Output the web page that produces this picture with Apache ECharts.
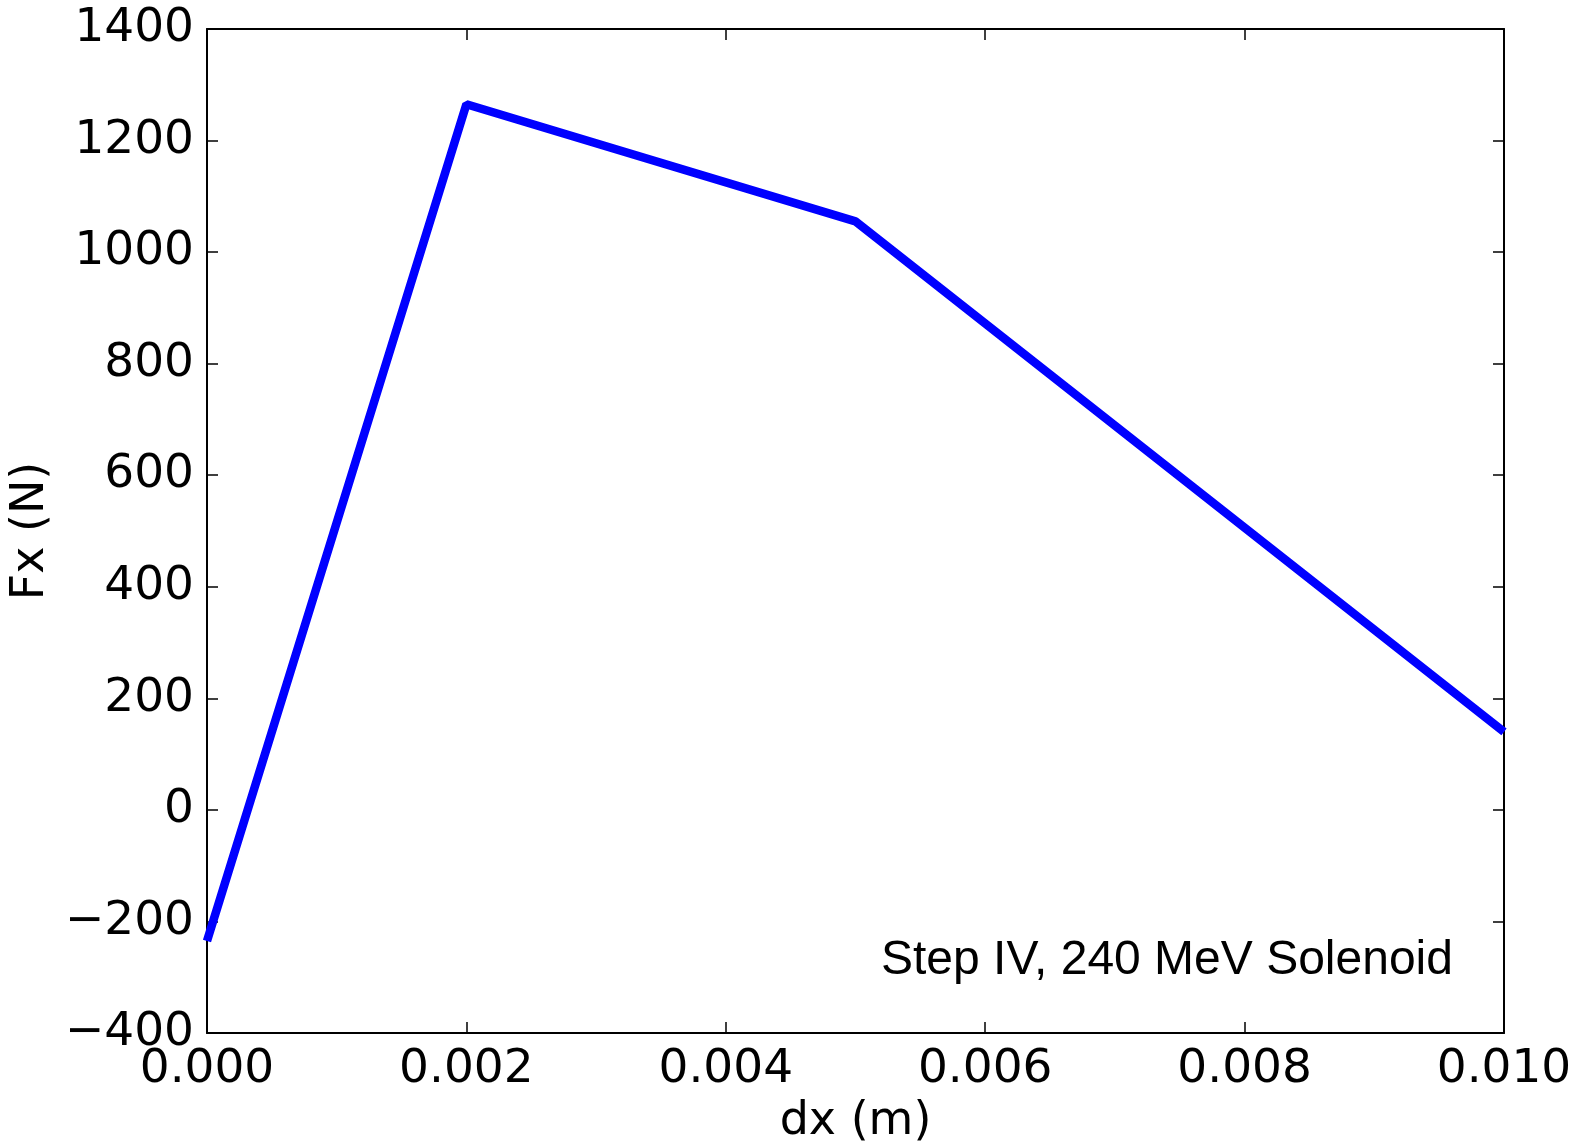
<!DOCTYPE html>
<html lang="en">
<head>
    <meta charset="UTF-8">
    <title>Fx vs dx</title>
    <style>
        html, body { margin: 0; padding: 0; background: #fff; }
        #chart { width: 1583px; height: 1141px; }
    </style>
    <script src="https://cdn.jsdelivr.net/npm/echarts@6/dist/echarts.min.js"></script>
</head>
<body>
    <div id="chart"></div>
    <script>
        // data
        var dxValues = [0.000, 0.002, 0.005, 0.010];
        var fxValues = [-235, 1265, 1055, 140];
        var note = 'Step IV, 240 MeV Solenoid';

        var tickFont = 'DejaVu Sans';
        var minus = function (v) { return String(v).replace('-', '\u2212'); };

        var points = dxValues.map(function (x, i) { return [x, fxValues[i]]; });

        // shared axis look: black box, ticks pointing inside
        var plainLine = { show: true, onZero: false, lineStyle: { color: '#000', width: 2 } };
        var innerTick = { show: true, inside: true, length: 11, lineStyle: { color: '#000', width: 1.5 } };

        var option = {
            animation: false,
            backgroundColor: '#fff',
            grid: { left: 207, right: 79, top: 29, bottom: 108, outerBoundsMode: 'none', containLabel: false },
            xAxis: [
                {
                    type: 'value', min: 0, max: 0.01, interval: 0.002,
                    name: 'dx (m)', nameLocation: 'middle', nameGap: 66,
                    nameTextStyle: { fontFamily: tickFont, fontSize: 46, color: '#000' },
                    axisLine: plainLine, axisTick: innerTick, splitLine: { show: false },
                    axisLabel: {
                        fontFamily: tickFont, fontSize: 47, color: '#000', margin: 13,
                        formatter: function (v) { return v.toFixed(3); }
                    }
                },
                {
                    type: 'value', position: 'top', min: 0, max: 0.01, interval: 0.002,
                    axisLine: plainLine, axisTick: innerTick, splitLine: { show: false },
                    axisLabel: { show: false }
                }
            ],
            yAxis: [
                {
                    type: 'value', min: -400, max: 1400, interval: 200,
                    name: 'Fx (N)', nameLocation: 'middle', nameGap: 148,
                    nameTextStyle: { fontFamily: tickFont, fontSize: 46, color: '#000' },
                    axisLine: plainLine, axisTick: innerTick, splitLine: { show: false },
                    axisLabel: {
                        fontFamily: tickFont, fontSize: 47, color: '#000', margin: 13,
                        formatter: minus
                    }
                },
                {
                    type: 'value', position: 'right', min: -400, max: 1400, interval: 200,
                    axisLine: plainLine, axisTick: innerTick, splitLine: { show: false },
                    axisLabel: { show: false }
                }
            ],
            series: [
                {
                    type: 'line',
                    data: points,
                    symbol: 'none',
                    lineStyle: { color: '#0000ff', width: 8.5 },
                    clip: true
                }
            ],
            graphic: [
                {
                    type: 'text', left: 881, top: 937,
                    style: { text: note, font: '48px "Liberation Sans"', fill: '#000' }
                }
            ]
        };

        var chart = echarts.init(document.getElementById('chart'));
        chart.setOption(option);
    </script>
</body>
</html>
